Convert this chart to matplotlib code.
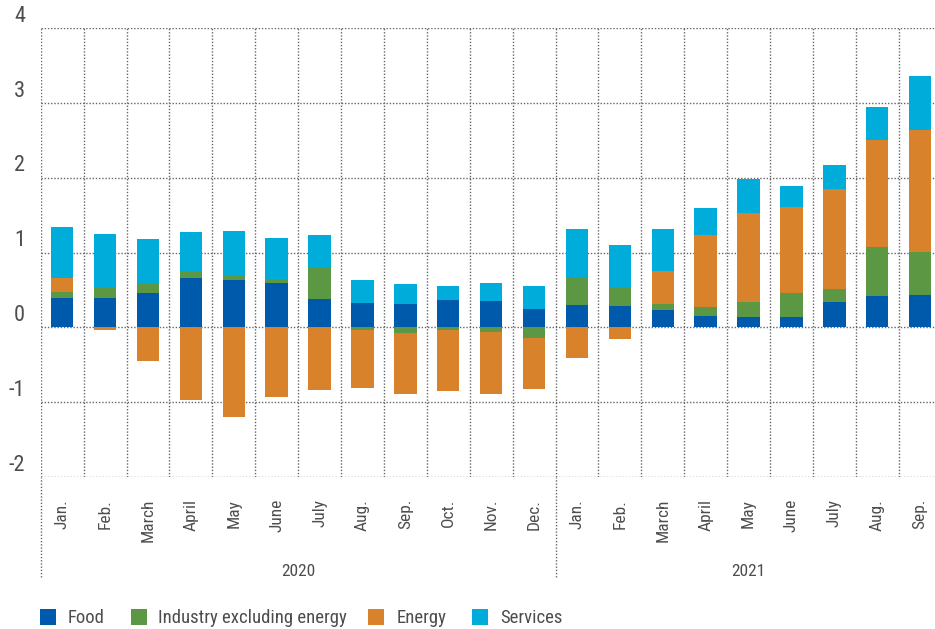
import numpy as np
import matplotlib
matplotlib.use("Agg")
import matplotlib.pyplot as plt
from matplotlib import font_manager
from matplotlib.patches import Rectangle
from matplotlib.lines import Line2D
import matplotlib.transforms as mtransforms

names = {f.name for f in font_manager.fontManager.ttflist}
narrow = [n for n in ["Roboto Condensed", "Liberation Sans Narrow"] if n in names]
if narrow:
    plt.rcParams["font.family"] = [narrow[0], "DejaVu Sans"]
    fs_leg, fs_tick, fs_month = 13.5, 16, 12.5
else:
    plt.rcParams["font.family"] = ["Roboto", "DejaVu Sans"]
    fs_leg, fs_tick, fs_month = 11.5, 15, 11

months = ["Jan.", "Feb.", "March", "April", "May", "June", "July", "Aug.",
          "Sep.", "Oct.", "Nov.", "Dec.",
          "Jan.", "Feb.", "March", "April", "May", "June", "July", "Aug.", "Sep."]
years = ["2020", "2021"]
n_2020 = 12

food = [0.39, 0.40, 0.46, 0.66, 0.63, 0.59, 0.38, 0.33, 0.32, 0.37, 0.35, 0.25,
        0.30, 0.29, 0.23, 0.15, 0.14, 0.14, 0.34, 0.42, 0.43]
industry = [0.08, 0.13, 0.12, 0.09, 0.06, 0.05, 0.42, -0.04, -0.07, -0.03, -0.06, -0.14,
            0.36, 0.25, 0.09, 0.12, 0.20, 0.32, 0.17, 0.66, 0.58]
energy = [0.19, -0.03, -0.45, -0.97, -1.20, -0.93, -0.83, -0.77, -0.82, -0.82, -0.83, -0.68,
          -0.41, -0.15, 0.43, 0.96, 1.19, 1.15, 1.34, 1.43, 1.63]
services = [0.68, 0.72, 0.60, 0.52, 0.60, 0.56, 0.43, 0.31, 0.26, 0.19, 0.25, 0.31,
            0.66, 0.56, 0.57, 0.37, 0.46, 0.28, 0.32, 0.44, 0.72]

series = [("Food", food, "#005aab"),
          ("Industry excluding energy", industry, "#5c9843"),
          ("Energy", energy, "#d8832b"),
          ("Services", services, "#00acd9")]

text_col = "#4d4d4d"
grid_col = "#666666"

fig = plt.figure(figsize=(9.35, 6.29), dpi=100)
W, H = 935, 629
ax = fig.add_axes([40.7 / W, (H - 477) / H, 900.9 / W, (477 - 28.3) / H])

x = np.arange(len(months))
pos = np.zeros(len(months))
neg = np.zeros(len(months))
for name, vals, col in series:
    v = np.array(vals)
    bottom = np.where(v >= 0, pos, neg)
    ax.bar(x, v, 0.52, bottom=bottom, color=col, linewidth=0, zorder=3)
    pos = pos + np.where(v >= 0, v, 0)
    neg = neg + np.where(v < 0, v, 0)

ax.set_xlim(-0.5, len(months) - 0.5)
ax.set_ylim(-2, 4)
for s in ax.spines.values():
    s.set_visible(False)
ax.set_xticks([])
ax.set_yticks([])

dot = dict(color=grid_col, lw=1.0, ls=(0, (1, 1.3)), zorder=1)
for yv in range(-2, 5):
    ax.axhline(yv, **dot)
for xv in np.arange(-0.5, len(months), 1.0):
    ax.axvline(xv, **dot)

# long dotted lines down to the year labels
ybot = (H - 577) / H
for xv in [-0.5, n_2020 - 0.5]:
    xf = fig.transFigure.inverted().transform(ax.transData.transform((xv, 0)))[0]
    fig.add_artist(Line2D([xf, xf], [ybot, (H - 477) / H], transform=fig.transFigure,
                          color=grid_col, lw=1.0, ls=(0, (1, 1.3))))

# y labels sitting on the grid lines
tr = mtransforms.blended_transform_factory(fig.transFigure, ax.transData)
for yv in range(-2, 5):
    ax.text(25 / W, yv + 0.02, str(yv), transform=tr, ha="right", va="bottom",
            fontsize=fs_tick, color=text_col, clip_on=False)

# month labels
trx = mtransforms.blended_transform_factory(ax.transData, fig.transFigure)
for i, m in enumerate(months):
    ax.text(i, (H - 499) / H, m, transform=trx, rotation=90, ha="center", va="top",
            fontsize=fs_month, color=text_col, clip_on=False)

ax.text((n_2020 - 1) / 2, (H - 571) / H, years[0], transform=trx, ha="center",
        va="center", fontsize=fs_month, color=text_col, clip_on=False)
ax.text((n_2020 + len(months) - 1) / 2, (H - 571) / H, years[1], transform=trx,
        ha="center", va="center", fontsize=fs_month, color=text_col, clip_on=False)

# legend
sq = [40, 131, 368, 472]
tx = [68, 158, 397, 500]
for (name, vals, col), sx, t in zip(series, sq, tx):
    fig.add_artist(Rectangle((sx / W, (H - 625) / H), 16 / W, 16 / H,
                             transform=fig.transFigure, color=col, lw=0))
    fig.text(t / W, (H - 618) / H, name, ha="left", va="center", fontsize=fs_leg,
             color=text_col)

fig.savefig("out.png", dpi=100)
